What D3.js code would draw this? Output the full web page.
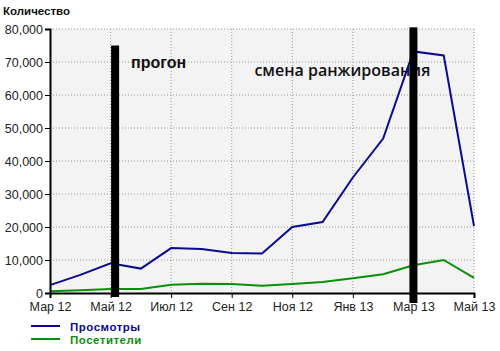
<!DOCTYPE html>
<html>
<head>
<meta charset="utf-8">
<script src="https://cdn.jsdelivr.net/npm/d3@7"></script>
<style>
  body { margin: 0; background: #fff; }
  svg { display: block; font-family: "Liberation Sans", Arial, sans-serif; }
  .grid line { stroke: #9a9a9a; stroke-dasharray: 1,2; }
  .axis text { font-size: 12.5px; fill: #222; }
</style>
</head>
<body>
<svg id="chart" width="500" height="351"></svg>
<script>
// months from Mar 12 to May 13
var months = ["Мар 12", "Апр 12", "Май 12", "Июн 12", "Июл 12", "Авг 12", "Сен 12",
    "Окт 12", "Ноя 12", "Дек 12", "Янв 13", "Фев 13", "Мар 13", "Апр 13", "Май 13"];
var views = [2400, 5500, 9000, 7400, 13600, 13300, 12100, 12000, 20000, 21500, 35000, 46800, 73200, 72000, 20300];
var visitors = [500, 800, 1200, 1200, 2500, 2800, 2700, 2200, 2700, 3300, 4500, 5700, 8400, 10000, 4600];
var yTicks = [0, 10000, 20000, 30000, 40000, 50000, 60000, 70000, 80000];
var seriesNames = ["Просмотры", "Посетители"];
var seriesColors = ["#0b0b8f", "#0a8f0a"];
// events: month index, bar top value, label
var eventPos = [2.15, 12];
var eventTop = [75000, 80500];
var eventLabels = ["прогон", "смена ранжирования"];

var svg = d3.select("#chart"),
    margin = { top: 29, right: 26, bottom: 58, left: 50 },
    width = +svg.attr("width") - margin.left - margin.right,
    height = +svg.attr("height") - margin.top - margin.bottom;

var x = d3.scaleLinear().domain([0, months.length - 1]).range([0, width]);
var y = d3.scaleLinear().domain([0, 80000]).range([height, 0]);

var g = svg.append("g")
    .attr("transform", "translate(" + margin.left + "," + margin.top + ")");

// plot background
g.append("rect")
    .attr("width", width)
    .attr("height", height)
    .style("fill", "#f3f3f3");

var xTickIdx = d3.range(0, months.length, 2);

// gridlines
g.append("g")
    .attr("class", "grid")
    .selectAll("line")
    .data(yTicks.slice(1))
    .enter()
    .append("line")
    .attr("x1", 0)
    .attr("x2", width)
    .attr("y1", function (d) { return y(d); })
    .attr("y2", function (d) { return y(d); });

g.append("g")
    .attr("class", "grid")
    .selectAll("line")
    .data(xTickIdx.slice(1))
    .enter()
    .append("line")
    .attr("x1", function (d) { return x(d); })
    .attr("x2", function (d) { return x(d); })
    .attr("y1", 0)
    .attr("y2", height);

// event labels (under the lines and bars)
g.append("text")
    .attr("x", x(eventPos[0]) + 16)
    .attr("y", 39)
    .style("font-size", "16px")
    .style("font-weight", "bold")
    .style("fill", "#111")
    .text(eventLabels[0]);

g.append("text")
    .attr("x", x(eventPos[1]) - 159)
    .attr("y", 47)
    .style("font-family", "'Open Sans', sans-serif")
    .style("font-size", "16px")
    .style("font-weight", 600)
    .style("fill", "#111")
    .text(eventLabels[1]);

// lines
var line = d3.line()
    .x(function (d, i) { return x(i); })
    .y(function (d) { return y(d); });

[views, visitors].forEach(function (s, i) {
    g.append("path")
        .datum(s)
        .attr("d", line)
        .style("fill", "none")
        .style("stroke", seriesColors[i])
        .style("stroke-width", 2);
});

// axes
var yAxis = g.append("g")
    .attr("class", "axis")
    .call(d3.axisLeft(y).tickValues(yTicks).tickSize(5).tickPadding(2)
        .tickFormat(d3.format(",")));

var xAxis = g.append("g")
    .attr("class", "axis")
    .attr("transform", "translate(0," + height + ")")
    .call(d3.axisBottom(x).tickValues(xTickIdx).tickSize(5).tickPadding(4)
        .tickFormat(function (d) { return months[d]; }));

[yAxis, xAxis].forEach(function (a) {
    a.select(".domain").style("stroke", "#000").style("stroke-width", 2);
    a.selectAll(".tick line").style("stroke", "#000");
});

// event bars
g.selectAll(".event")
    .data(eventPos)
    .enter()
    .append("rect")
    .attr("class", "event")
    .attr("x", function (d) { return x(d) - 4; })
    .attr("width", 8)
    .attr("y", function (d, i) { return y(eventTop[i]); })
    .attr("height", function (d, i) { return y(0) - y(eventTop[i]) + (i ? 10 : 4); })
    .style("fill", "#000");

// y axis title
svg.append("text")
    .attr("x", 3)
    .attr("y", 15)
    .style("font-size", "11.5px")
    .style("font-weight", "bold")
    .style("fill", "#111")
    .text("Количество");

// legend
var legend = svg.selectAll(".legend")
    .data(seriesNames)
    .enter()
    .append("g")
    .attr("class", "legend")
    .attr("transform", function (d, i) { return "translate(31," + (326 + i * 13) + ")"; });

legend.append("line")
    .attr("x2", 29)
    .style("stroke", function (d, i) { return seriesColors[i]; })
    .style("stroke-width", 2);

legend.append("text")
    .attr("x", 39)
    .attr("y", 5)
    .style("font-size", "11.5px")
    .style("font-weight", "bold")
    .style("letter-spacing", "0.5px")
    .style("fill", function (d, i) { return seriesColors[i]; })
    .text(function (d) { return d; });
</script>
</body>
</html>
